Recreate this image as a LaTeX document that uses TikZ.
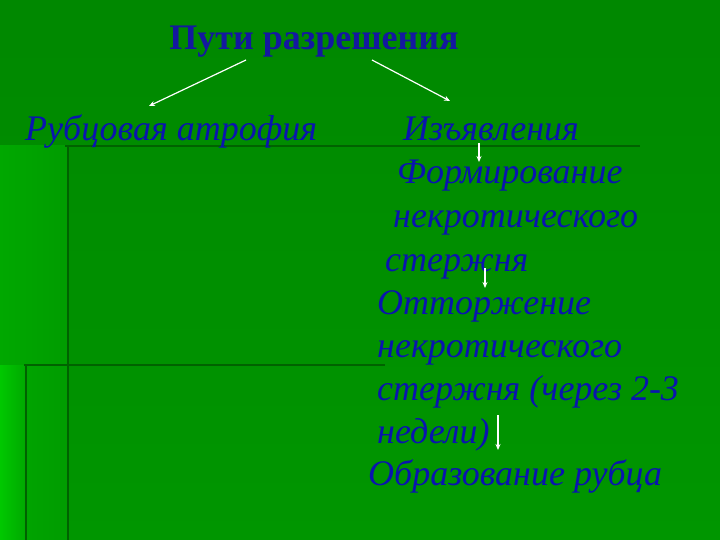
\documentclass[tikz,border=0pt]{standalone}
\usepackage{fontspec}
\setmainfont{Liberation Serif}
\usetikzlibrary{arrows.meta}
\definecolor{bgtop}{RGB}{0,136,0}
\definecolor{bgbot}{RGB}{0,150,0}
\definecolor{leftA}{RGB}{0,168,0}
\definecolor{leftB}{RGB}{0,156,0}
\definecolor{leftC}{RGB}{0,200,0}
\definecolor{rule}{RGB}{0,98,0}
\definecolor{txtblue}{RGB}{10,20,175}
\definecolor{ttlblue}{RGB}{20,24,160}
\tikzset{
  item/.style={anchor=base west, inner sep=0pt, text=txtblue, font=\fontsize{36}{42}\selectfont\itshape},
  title/.style={anchor=base, inner sep=0pt, text=ttlblue, font=\fontsize{36}{42}\selectfont\bfseries},
  arr/.style={white, line width=1.2pt, -{Stealth[length=6pt,width=5pt]}},
  rulel/.style={rule, line width=2.5pt}
}
\begin{document}
\begin{tikzpicture}[x=1pt,y=-1pt]
\useasboundingbox (0,0) rectangle (720,540);
% background
\shade[top color=bgtop, bottom color=bgbot] (0,0) rectangle (720,540);
\shade[left color=leftA, right color=leftB] (0,146) rectangle (68,540);
\shade[left color=leftC, right color=leftA] (0,365) rectangle (26,540);
\draw[rulel] (65,146) -- (640,146);
\draw[rulel] (68,146) -- (68,540);
\draw[rulel] (24,365) -- (385,365);
\draw[rulel] (26,365) -- (26,540);
% texts
\node[title] (t) at (314,50) {Пути разрешения};
\node[item] (a) at (25,141) {Рубцовая атрофия};
\node[item] (b) at (403,141) {Изъявления};
\node[item] (c1) at (397,184) {Формирование};
\node[item] (c2) at (393,228) {некротического};
\node[item] (c3) at (385,271) {стержня};
\node[item] (d1) at (377,314) {Отторжение};
\node[item] (d2) at (377,357) {некротического};
\node[item] (d3) at (377,400) {стержня (через 2-3};
\node[item] (d4) at (377,443) {недели)};
\node[item] (e) at (368,485) {Образование рубца};
% arrows
\coordinate (s1) at (246,60);
\coordinate (e1) at (149,106);
\coordinate (s2) at (372,60);
\coordinate (e2) at (450,101);
\coordinate (s3) at (479,143);
\coordinate (e3) at (479,162);
\coordinate (s4) at (485,268);
\coordinate (e4) at (485,288);
\coordinate (s5) at (498,415);
\coordinate (e5) at (498,450);
\draw[arr] (s1) -- (e1);
\draw[arr] (s2) -- (e2);
\draw[arr] (s3) -- (e3);
\draw[arr] (s4) -- (e4);
\draw[arr] (s5) -- (e5);
\end{tikzpicture}
\end{document}
